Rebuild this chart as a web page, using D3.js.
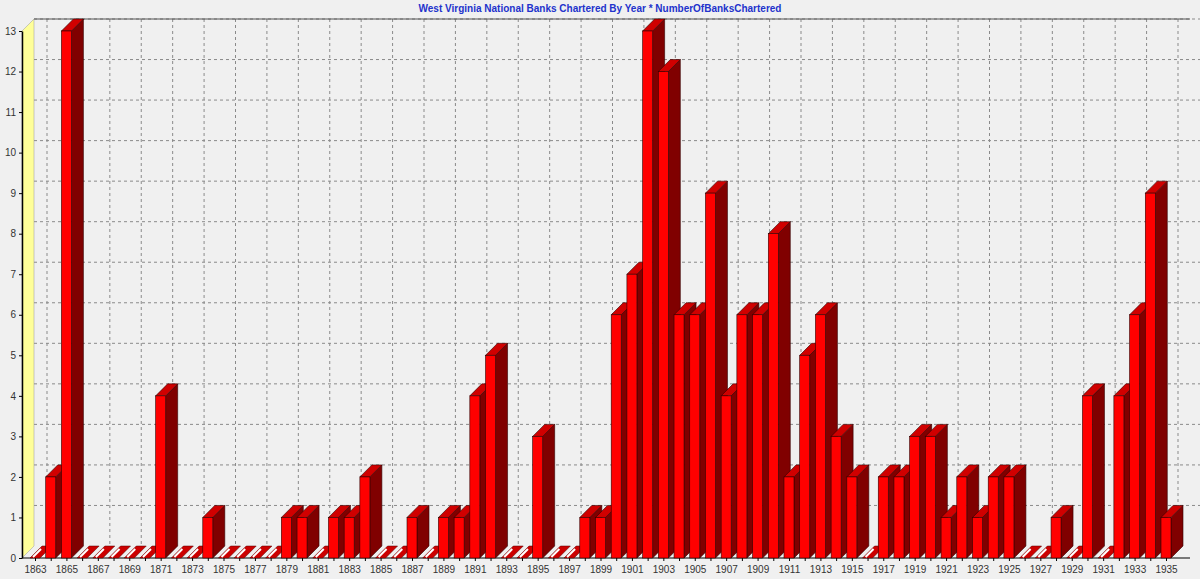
<!DOCTYPE html>
<html>
<head>
<meta charset="utf-8">
<script src="https://cdn.jsdelivr.net/npm/d3@7"></script>
<style>
body { margin: 0; background: #f0f0f0; }
svg { font-family: "Liberation Sans", Arial, sans-serif; }
</style>
</head>
<body>
<div id="chart"></div>
<script>
var years = d3.range(1863, 1936);
var banks = [0, 2, 13, 0, 0, 0, 0, 0, 4, 0, 0, 1, 0, 0, 0, 0, 1, 1, 0, 1,
    1, 2, 0, 0, 1, 0, 1, 1, 4, 5, 0, 0, 3, 0, 0, 1, 1, 6, 7, 13,
    12, 6, 6, 9, 4, 6, 6, 8, 2, 5, 6, 3, 2, 0, 2, 2, 3, 3, 1, 2,
    1, 2, 2, 0, 0, 1, 0, 4, 0, 4, 6, 9, 1];
var yTicks = d3.range(0, 14);
var chartTitle = "West Virginia National Banks Chartered By Year * NumberOfBanksChartered";

var width = 1200, height = 579;
var depth = 12;

var svg = d3.select("#chart").append("svg")
    .attr("width", width)
    .attr("height", height);

svg.append("rect").attr("width", width).attr("height", height).attr("fill", "#f0f0f0");

// scales (front plane)
var x = d3.scalePoint()
    .domain(years)
    .range([35, 1166]);

var y = d3.scaleLinear()
    .domain([0, 13])
    .range([558, 31]);

// back wall grid
var grid = svg.append("g").attr("transform", `translate(${depth}, ${-depth})`);

grid.selectAll(".hgrid")
    .data(yTicks.slice(1))
    .enter()
    .append("line")
    .attr("x1", 22).attr("x2", 1190)
    .attr("y1", d => y(d)).attr("y2", d => y(d))
    .attr("stroke", "#8a8a8a")
    .attr("stroke-dasharray", "3,3");

grid.selectAll(".vgrid")
    .data(years.filter((d, i) => i % 2 == 0))
    .enter()
    .append("line")
    .attr("x1", d => x(d)).attr("x2", d => x(d))
    .attr("y1", y(13)).attr("y2", y(0))
    .attr("stroke", "#8a8a8a")
    .attr("stroke-dasharray", "3,3");

// top border of back wall
svg.append("line")
    .attr("x1", 22 + depth).attr("x2", 1190)
    .attr("y1", y(13) - depth).attr("y2", y(13) - depth)
    .attr("stroke", "#555");

// yellow left wall
svg.append("polygon")
    .attr("points", [[22, y(13)], [22 + depth, y(13) - depth], [22 + depth, y(0) - depth], [22, y(0)]].join(" "))
    .attr("fill", "#ffff99")
    .attr("stroke", "#999")
    .attr("stroke-width", 0.5);

// y axis
var yAxis = d3.axisLeft(y).tickValues(yTicks).tickSize(3).tickSizeOuter(0);
var yg = svg.append("g").attr("transform", "translate(22,0)").call(yAxis);
yg.select(".domain").attr("stroke", "#000").attr("stroke-width", 1.5);
yg.selectAll("text").attr("font-size", 10).attr("fill", "#333");

// x axis
var xAxis = d3.axisBottom(x)
    .tickValues(years)
    .tickSize(3)
    .tickSizeOuter(0)
    .tickFormat(d => (d - 1863) % 2 == 0 ? d : "");
var xg = svg.append("g").attr("transform", `translate(0, ${y(0)})`).call(xAxis);
xg.select(".domain").attr("d", `M22,0H1190`).attr("stroke", "#000");
xg.selectAll("text").attr("font-size", 10).attr("fill", "#333").attr("dy", "0.9em");

// bars
var bw = 10;
var bars = svg.append("g").selectAll("g")
    .data(years.map((d, i) => ({ year: d, value: banks[i] })))
    .enter()
    .append("g");

bars.each(function(d) {
    var g = d3.select(this);
    var x0 = x(d.year) - bw / 2, x1 = x0 + bw;
    var y0 = y(0), yt = y(d.value);
    if (d.value == 0) {
        // flat slab
        g.append("polygon")
            .attr("points", [[x0, y0], [x0 + depth, y0 - depth], [x1 + depth, y0 - depth], [x1, y0]].join(" "))
            .attr("fill", "#cc0000")
            .attr("stroke", "#550000")
            .attr("stroke-width", 0.5);
        g.append("line")
            .attr("x1", x0 + 3).attr("y1", y0 - 1)
            .attr("x2", x0 + depth - 1).attr("y2", y0 - depth + 3)
            .attr("stroke", "#fff").attr("stroke-width", 2);
        return;
    }
    // side
    g.append("polygon")
        .attr("points", [[x1, y0], [x1, yt], [x1 + depth, yt - depth], [x1 + depth, y0 - depth]].join(" "))
        .attr("fill", "#800000")
        .attr("stroke", "#300000")
        .attr("stroke-width", 0.6);
    // top
    g.append("polygon")
        .attr("points", [[x0, yt], [x0 + depth, yt - depth], [x1 + depth, yt - depth], [x1, yt]].join(" "))
        .attr("fill", "#d00000")
        .attr("stroke", "#300000")
        .attr("stroke-width", 0.6);
    // front
    g.append("rect")
        .attr("x", x0).attr("y", yt)
        .attr("width", bw).attr("height", y0 - yt)
        .attr("fill", "#ff0000")
        .attr("stroke", "#300000")
        .attr("stroke-width", 0.6);
});

// title
svg.append("text")
    .attr("x", width / 2)
    .attr("y", 12)
    .attr("text-anchor", "middle")
    .attr("font-size", 10)
    .attr("font-weight", "bold")
    .attr("fill", "#2233cc")
    .text(chartTitle);
</script>
</body>
</html>
